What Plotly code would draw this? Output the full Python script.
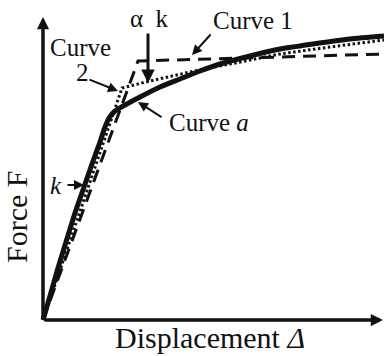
import plotly.graph_objects as go

# Force–displacement curves (displacement and force in drawing units, origin at 0,0)
curve_a_disp = [0, 7, 15, 23, 32, 41, 49, 57, 62, 66, 72, 82, 97, 117, 137, 157, 177, 207, 237, 270, 307, 341]
curve_a_force = [0, 24, 52, 78, 107, 133, 156, 178, 193, 202, 209, 215, 223, 233, 241, 249, 256, 264, 271, 276, 281, 284]

curve1_disp = [0, 95, 341]
curve1_force = [0, 259, 266]

curve2_disp = [0, 79, 107, 147, 187, 237, 287, 341]
curve2_force = [0, 232, 239, 248, 256, 266, 273, 280]

FONT = "Liberation Serif"
INK = "#111111"

fig = go.Figure()

fig.add_trace(go.Scatter(x=curve1_disp, y=curve1_force, mode="lines",
                         line=dict(color=INK, width=3, dash="13px,8px")))
fig.add_trace(go.Scatter(x=curve2_disp, y=curve2_force, mode="lines",
                         line=dict(color=INK, width=3, dash="2.5px,2.5px")))
fig.add_trace(go.Scatter(x=curve_a_disp, y=curve_a_force, mode="lines",
                         line=dict(color=INK, width=5, shape="spline", smoothing=0.6)))

annotations = []

# axes drawn as arrows
annotations.append(dict(x=340, y=0, ax=0, ay=0, xref="x", yref="y", axref="x", ayref="y",
                        text="", showarrow=True, arrowhead=2, arrowsize=0.7,
                        arrowwidth=3.5, arrowcolor=INK))
annotations.append(dict(x=0, y=303, ax=0, ay=0, xref="x", yref="y", axref="x", ayref="y",
                        text="", showarrow=True, arrowhead=2, arrowsize=0.7,
                        arrowwidth=3.5, arrowcolor=INK))

# pointer arrows (tip, tail, width, size)
pointers = [
    ((105, 237), (105, 288), 3, 0.9),   # alpha k
    ((149, 265), (169, 287), 2, 1.0),   # Curve 1
    ((75, 229), (45, 241), 2, 1.0),     # Curve 2
    ((95, 218), (120, 202), 2, 1.0),    # Curve a
    ((41, 135), (23, 135), 2, 1.0),     # k
]
for (tx, ty), (sx, sy), w, s in pointers:
    annotations.append(dict(x=tx, y=ty, ax=sx, ay=sy, xref="x", yref="y",
                            axref="x", ayref="y", text="", showarrow=True,
                            arrowhead=2, arrowsize=s, arrowwidth=w, arrowcolor=INK))

labels = [
    ("α\u2002k", 106, 302, 25),
    ("Curve 1", 210, 300, 25),
    ("Curve", 37, 273, 25),
    ("2", 39, 248, 25),
    ("Curve <i>a</i>", 166, 198, 25),
    ("<i>k</i>", 13, 135, 25),
]
for text, x, y, size in labels:
    annotations.append(dict(x=x, y=y, xref="x", yref="y", text=text, showarrow=False,
                            xanchor="center", yanchor="middle",
                            font=dict(family=FONT, size=size, color=INK)))

annotations.append(dict(x=167, y=-36, xref="x", yref="y", text="Displacement <i>Δ</i>",
                        showarrow=False, xanchor="center", yanchor="bottom",
                        font=dict(family=FONT, size=30, color=INK)))
annotations.append(dict(x=-27, y=103, xref="x", yref="y", text="Force F", showarrow=False,
                        textangle=-90, xanchor="center", yanchor="middle",
                        font=dict(family=FONT, size=30, color=INK)))

fig.update_layout(
    width=384, height=356,
    margin=dict(l=0, r=0, t=0, b=0),
    paper_bgcolor="white", plot_bgcolor="white",
    showlegend=False,
    xaxis=dict(range=[-43, 341], visible=False, fixedrange=True),
    yaxis=dict(range=[-36, 320], visible=False, fixedrange=True),
    annotations=annotations,
)

fig.write_html("out.html", config={"displayModeBar": False})
